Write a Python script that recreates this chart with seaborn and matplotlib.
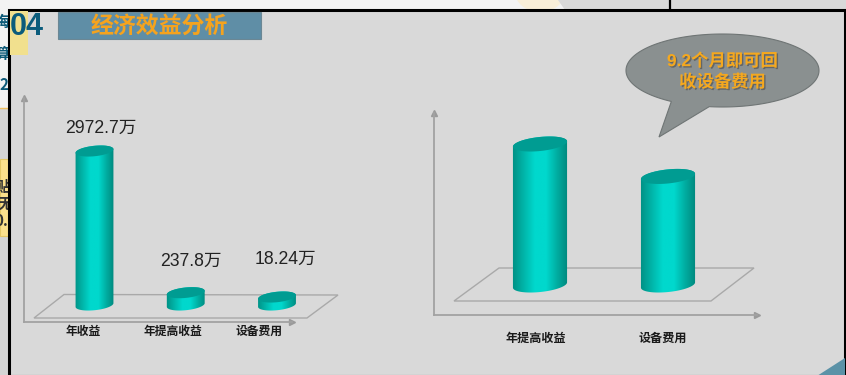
import numpy as np
import matplotlib
matplotlib.use("Agg")
import matplotlib.pyplot as plt
import matplotlib.patheffects as pe
from matplotlib.colors import LinearSegmentedColormap
from matplotlib.patches import Ellipse, PathPatch, Polygon, Rectangle
from matplotlib.path import Path
import seaborn as sns

# Chart data
income_categories = ["年收益", "年提高收益", "设备费用"]
income_values = [2972.7, 237.8, 18.24]
income_labels = ["2972.7万", "237.8万", "18.24万"]
payback_categories = ["年提高收益", "设备费用"]
payback_index = [100, 77]

section_number = "04"
section_title = "经济效益分析"
callout_lines = ["9.2个月即可回", "收设备费用"]

W, H = 846, 375
sns.set_theme(style="white")
CJK = ["Noto Sans CJK SC", "DejaVu Sans"]
LATIN_CJK = ["Liberation Sans", "Noto Sans CJK SC"]
plt.rcParams["font.family"] = CJK

fig = plt.figure(figsize=(W / 100, H / 100), dpi=100, facecolor="#f3f3f3")


def pixel_layer(z):
    ax = fig.add_axes([0, 0, 1, 1], zorder=z)
    ax.set_xlim(0, W)
    ax.set_ylim(H, 0)
    ax.axis("off")
    ax.patch.set_alpha(0)
    return ax


def rect_axes(x0, y0, x1, y1):
    return fig.add_axes([x0 / W, 1 - y1 / H, (x1 - x0) / W, (y1 - y0) / H], zorder=1, facecolor="none")


back = pixel_layer(0)
front = pixel_layer(2)

# Slide fragments showing around the panel
back.add_patch(Ellipse((540, -8), 50, 40, fc="#f8eed8", ec="none", zorder=0.2))
back.add_patch(Polygon([(558, 0), (846, 0), (846, 10), (565, 10)], fc="#d9d9d9", ec="none", zorder=0.3))
back.plot([669.5, 669.5], [0, 9], color="black", lw=1.6, zorder=0.4)
back.add_patch(Rectangle((0, 108), 9, 267, fc="#d4d4d4", ec="none", zorder=0.2))
back.plot([0, 9], [108, 108], color="#f0c060", lw=1, zorder=0.3)
back.add_patch(Rectangle((0, 159), 9, 77, fc="#fbe08c", ec="#e4c766", lw=0.8, zorder=0.3))
for txt, x, y, col in [("海", 2, 22, "#0d5a78"), ("算", 2, 54, "#0d5a78"), (".2", 3, 85, "#0d5a78"),
                       ("贴", 3, 187, "#333333"), ("无", 5, 204, "#333333"), ("0.", 1, 221, "#333333")]:
    back.text(x, y, txt, ha="center", va="center", fontsize=11, color=col, fontweight="bold", zorder=0.5)

# Main panel
back.add_patch(Rectangle((9, 10), 836, 366, fc="#d9d9d9", ec="black", lw=2.2, zorder=1))
back.add_patch(Polygon([(817, 376), (845, 358), (845, 376)], fc="#5b92a7", ec="none", zorder=1.1))
back.add_patch(Rectangle((10.2, 11.2), 18, 44, fc="#f1e08e", ec="none", zorder=1.1))

# Section heading
back.text(26.5, 27, section_number, ha="center", va="center", fontsize=22, fontweight="bold",
          color="#0b5c7c", family=["Liberation Sans", "DejaVu Sans"], zorder=3)
back.add_patch(Rectangle((58, 11.5), 203, 27.5, fc="#5f8ea6", ec="#6b8794", lw=0.8, zorder=1.1))
back.text(159, 26, section_title, ha="center", va="center", fontsize=16.5, fontweight="bold",
          color="#f5a31e", zorder=3)

# Floor planes under the cylinders
for corners in ([(64, 294.5), (338, 295), (307, 318), (34, 318)],
                [(499, 268), (754, 268), (711, 301), (454, 301)]):
    back.add_patch(Polygon(corners, fc="none", ec="#a9a9a9", lw=1, zorder=1.1))

cyl_cmap = LinearSegmentedColormap.from_list(
    "cylinder", ["#008f83", "#00b4a8", "#00d8cd", "#00d8cd", "#00aca0", "#00847a"])


def tilted_ellipse(cx, cy, a, b, t):
    tilt = np.deg2rad(-6)
    return (cx + a * np.cos(t) * np.cos(tilt) - b * np.sin(t) * np.sin(tilt),
            cy + a * np.cos(t) * np.sin(tilt) + b * np.sin(t) * np.cos(tilt))


def draw_cylinder(patch, ax, cap_b, min_wall=0):
    """Redraw one seaborn bar as a shaded cylinder, in pixel coordinates."""
    (x0, y0) = ax.transData.transform((patch.get_x(), patch.get_y()))
    (x1, y1) = ax.transData.transform((patch.get_x() + patch.get_width(), patch.get_y() + patch.get_height()))
    base = H - y0
    top = H - y1
    if base - top < min_wall:
        top = base - min_wall
    cx, a = (x0 + x1) / 2, (x1 - x0) / 2
    t_low = np.linspace(np.pi, 0, 60)       # lower rim of the base, left to right
    t_up = np.linspace(0, -np.pi, 60)       # far rim of the cap, right to left
    xs = np.r_[tilted_ellipse(cx, base, a, cap_b, t_low)[0], tilted_ellipse(cx, top, a, cap_b, t_up)[0]]
    ys = np.r_[tilted_ellipse(cx, base, a, cap_b, t_low)[1], tilted_ellipse(cx, top, a, cap_b, t_up)[1]]
    img = front.imshow(np.linspace(0, 1, 128)[None, :], cmap=cyl_cmap, aspect="auto", zorder=3,
                       extent=(cx - a - 1, cx + a + 1, base + cap_b + 6, top - cap_b - 6))
    img.set_clip_path(PathPatch(Path(np.c_[xs, ys]), transform=front.transData))
    t = np.linspace(0, 2 * np.pi, 100)
    front.add_patch(Polygon(np.c_[tilted_ellipse(cx, top, a, cap_b, t)], fc="#009c92", ec="none", zorder=4))
    patch.set_visible(False)


def style_axis(ax):
    sns.despine(ax=ax)
    for side in ("left", "bottom"):
        ax.spines[side].set_color("#a2a2a2")
        ax.spines[side].set_linewidth(1.3)
    ax.set_xlabel("")
    ax.set_ylabel("")
    ax.set_xticks([])
    ax.set_yticks([])
    ax.plot(1, 0, ">", transform=ax.transAxes, color="#9a9a9a", ms=4, clip_on=False)
    ax.plot(0, 1, "^", transform=ax.transAxes, color="#9a9a9a", ms=4, clip_on=False)


# Left chart: revenue figures on a shared linear scale
ax_left = rect_axes(24, 98, 292, 322)
sns.barplot(x=income_categories, y=income_values, ax=ax_left, color="#00c8bc", width=0.417)
ax_left.set_xlim((24 - 94.5) / 91.25, (292 - 94.5) / 91.25)
ax_left.set_ylim(-17 / 0.0518, 207 / 0.0518)
style_axis(ax_left)

# Right chart: relative comparison of gain against equipment cost
ax_right = rect_axes(434, 113, 757, 315)
sns.barplot(x=payback_categories, y=payback_index, ax=ax_right, color="#00c8bc", width=0.425)
ax_right.set_xlim((434 - 540) / 128, (757 - 540) / 128)
ax_right.set_ylim(-30 / 1.41, 172 / 1.41)
style_axis(ax_right)

fig.canvas.draw()
for p in list(ax_left.patches):
    draw_cylinder(p, ax_left, 5.2, min_wall=8)
for p in list(ax_right.patches):
    draw_cylinder(p, ax_right, 7)
front.set_xlim(0, W)
front.set_ylim(H, 0)

# Value labels and category names
for txt, x, y in zip(income_labels, [101, 191, 285.5], [128, 261, 259.5]):
    front.text(x, y, txt, ha="center", va="center", fontsize=12.7, color="#222222", family=LATIN_CJK, zorder=6)
for txt, x in zip(income_categories, [83, 173, 259]):
    front.text(x, 331, txt, ha="center", va="center", fontsize=8.5, color="#1a1a1a", fontweight="bold", zorder=6)
for txt, x in zip(payback_categories, [536, 662.5]):
    front.text(x, 338, txt, ha="center", va="center", fontsize=8.7, color="#1a1a1a", fontweight="bold", zorder=6)

# Speech bubble: ellipse rim with a pointed tail inserted on its lower side
t = np.linspace(0, 2 * np.pi, 240)
bx = 722.5 + 96.5 * np.cos(t)
by = 70.5 + 36.5 * np.sin(t)
rim_right = np.c_[bx, by][(t <= np.pi) & (bx >= 708)]
rim_left = np.c_[bx, by][(t <= np.pi) & (bx <= 673)]
rim_top = np.c_[bx, by][t > np.pi]
bubble = np.r_[rim_right, [[659, 137]], rim_left, rim_top]
front.add_patch(Polygon(bubble, fc="#8a9090", ec="#6f7575", lw=0.8, zorder=5))
shadow = [pe.withSimplePatchShadow(offset=(1, -1), shadow_rgbFace="#555555", alpha=0.7)]
for line, y in zip(callout_lines, [61, 81.5]):
    front.text(722.5, y, line, ha="center", va="center", fontsize=12.5, fontweight="bold", color="#f5a81e",
               family=["Liberation Sans", "Noto Sans CJK SC"], zorder=6, path_effects=shadow)

fig.savefig("out.png", dpi=100, facecolor=fig.get_facecolor())
